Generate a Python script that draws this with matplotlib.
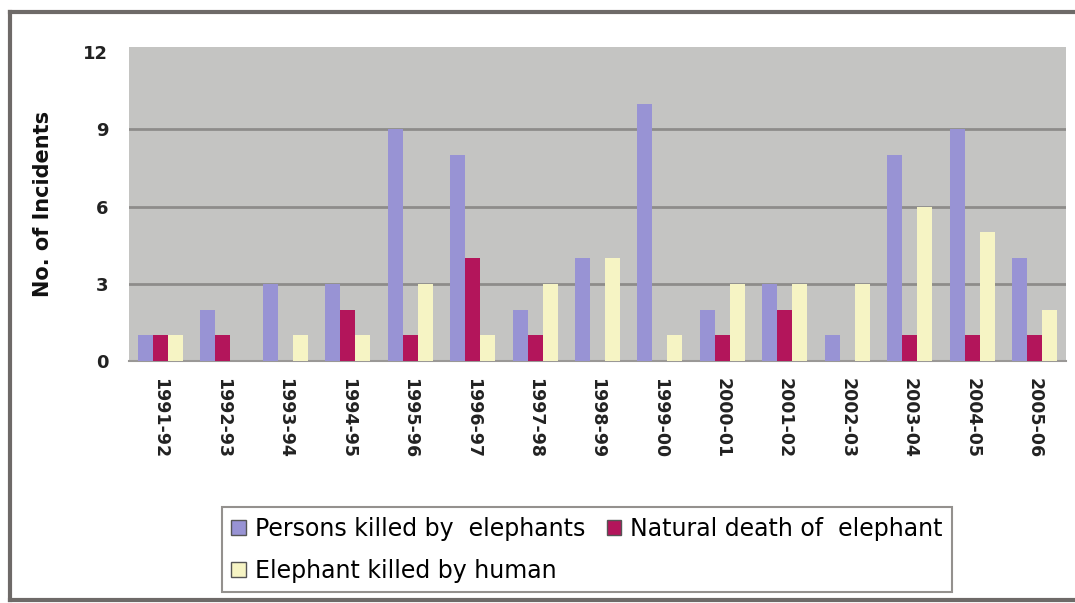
import matplotlib
matplotlib.use("Agg")
import matplotlib.pyplot as plt
from matplotlib.lines import Line2D
import numpy as np

years = ["1991-92", "1992-93", "1993-94", "1994-95", "1995-96", "1996-97",
         "1997-98", "1998-99", "1999-00", "2000-01", "2001-02", "2002-03",
         "2003-04", "2004-05", "2005-06"]
persons_killed = [1, 2, 3, 3, 9, 8, 2, 4, 10, 2, 3, 1, 8, 9, 4]
natural_death = [1, 1, 0, 2, 1, 4, 1, 0, 0, 1, 2, 0, 1, 1, 1]
killed_by_human = [1, 0, 1, 1, 3, 1, 3, 4, 1, 3, 3, 3, 6, 5, 2]
series_names = ["Persons killed by  elephants", "Natural death of  elephant",
                "Elephant killed by human"]
yticks = [0, 3, 6, 9, 12]

colors = ["#9893d4", "#b3155b", "#f6f4c4"]

fig = plt.figure(figsize=(10.75, 6.03), dpi=100)
fig.patch.set_facecolor("white")

# outer frame lines
frame_col = "#6e6a68"
fig.add_artist(Line2D([10 / 1075, 1.0], [1 - 12 / 603, 1 - 12 / 603],
                      transform=fig.transFigure, color=frame_col, lw=3))
fig.add_artist(Line2D([10 / 1075, 10 / 1075], [1 - 12 / 603, 1 - 600 / 603],
                      transform=fig.transFigure, color=frame_col, lw=3))
fig.add_artist(Line2D([10 / 1075, 1.0], [1 - 600 / 603, 1 - 600 / 603],
                      transform=fig.transFigure, color=frame_col, lw=3))

ax = fig.add_axes([129 / 1075, 1 - 361 / 603, (1066 - 129) / 1075, (361 - 47) / 603])
ax.set_facecolor("#c4c4c2")

x = np.arange(len(years))
w = 0.24
bars = []
for i, (vals, c) in enumerate(zip([persons_killed, natural_death, killed_by_human], colors)):
    b = ax.bar(x + (i - 1) * w, vals, width=w, color=c, label=series_names[i],
               edgecolor="none", zorder=3)
    bars.append(b)

ax.set_xlim(-0.5, len(years) - 0.5)
ax.set_ylim(0, 12.2)
ax.set_yticks(yticks)
ax.set_yticklabels([str(t) for t in yticks], fontsize=13, fontweight="bold", color="#222222")
for t in yticks[1:-1]:
    ax.axhline(t, color="#8e8c8a", lw=2, zorder=1)
ax.set_xticks(x)
ax.set_xticklabels(years, rotation=-90, fontsize=12.5, fontweight="bold", color="#222222")
ax.tick_params(axis="both", length=0)
ax.tick_params(axis="x", pad=12)
ax.tick_params(axis="y", pad=15)
for side in ["top", "right", "left"]:
    ax.spines[side].set_visible(False)
ax.spines["bottom"].set_color("#9a9896")
ax.spines["bottom"].set_linewidth(1.5)
ax.set_ylabel("No. of Incidents", fontsize=15, fontweight="bold", color="#111111", labelpad=22)

# column-first fill: first column holds series 0 and 2, second holds series 1
order = [0, 2, 1]
leg = fig.legend([bars[k] for k in order], [series_names[k] for k in order],
                 ncol=2, loc="lower left",
                 bbox_to_anchor=(222 / 1075, 1 - 592 / 603),
                 fontsize=17, frameon=True, fancybox=False, edgecolor="#7a7672",
                 handlelength=0.6, handleheight=0.6, handletextpad=0.4,
                 columnspacing=0.9, labelspacing=0.75, borderpad=0.4, borderaxespad=0)
leg.get_frame().set_linewidth(1.5)
for p in leg.get_patches():
    p.set_edgecolor("#555555")
    p.set_linewidth(1)

fig.savefig("out.png", dpi=100, facecolor="white")
